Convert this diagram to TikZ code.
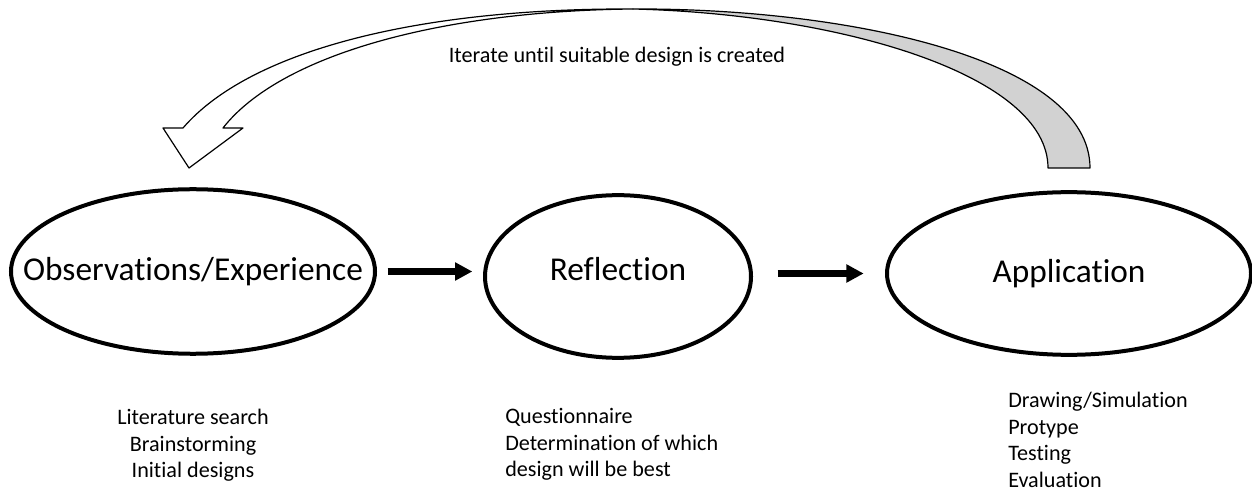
\documentclass[tikz,border=0pt]{standalone}
\usepackage{fontspec}
\setmainfont{Carlito}[Ligatures={NoCommon,NoContextual},Contextuals=NoAlternate]
\usetikzlibrary{arrows.meta,shapes.geometric,positioning}
\definecolor{ribbongrey}{RGB}{210,210,210}

\begin{document}
\begin{tikzpicture}[x=0.75pt,y=-0.75pt,>={Triangle[length=13pt,width=13pt]},
					stage/.style={draw,ellipse,line width=3pt,inner sep=0pt},
					every label/.style={font=\fontsize{25}{30}\selectfont},
					note/.style={font=\fontsize{16.6}{19.9}\selectfont,inner sep=0pt},
					flow/.style={->,line width=5.2pt},
					ribbon/.style={draw,line width=0.9pt,line join=round}]

					\useasboundingbox (0,0) rectangle (1252,491);

					\node[stage,minimum width=273pt,minimum height=123.4pt,label=center:Observations/Experience] (obs) at (193,271.5) {};
					\node[stage,minimum width=199.5pt,minimum height=122pt,label={[yshift=5.5pt]center:Reflection}] (refl) at (618,276.5) {};
					\node[stage,minimum width=273pt,minimum height=122pt,label=center:Application] (app) at (1069,273.5) {};

					\draw[flow,shorten <=8pt,shorten >=8pt] (obs.east) -- (obs.east -| refl.west);
					\draw[flow,shorten <=18.5pt,shorten >=16pt] (app.west -| refl.east) -- (app.west);

					\node[note,align=center] (obsnotes) [below=40pt of obs] {Literature search\\Brainstorming\\Initial designs};
					\node[note,align=left,anchor=north west] (reflnotes) at (505,408) {Questionnaire\\Determination of which\\design will be best};
					\node[note,align=left,anchor=north west] (appnotes) at (1008,392) {Drawing/Simulation\\Protype\\Testing\\Evaluation};

					% curved return arrow
					\draw[ribbon,fill=white] (183,128) .. controls (250,50) and (420,8) .. (633,9)
						.. controls (440,11) and (280,55) .. (223,128) -- (243,128) -- (189,168) -- (163,128) -- cycle;
					\draw[ribbon,fill=ribbongrey] (633,9) .. controls (850,8) and (1090,60) .. (1090,168)
						-- (1048,168) .. controls (1048,75) and (840,14) .. (633,9) -- cycle;
					\node[note] (iter) at (617,57) {Iterate until suitable design is created};

				\end{tikzpicture}
\end{document}
